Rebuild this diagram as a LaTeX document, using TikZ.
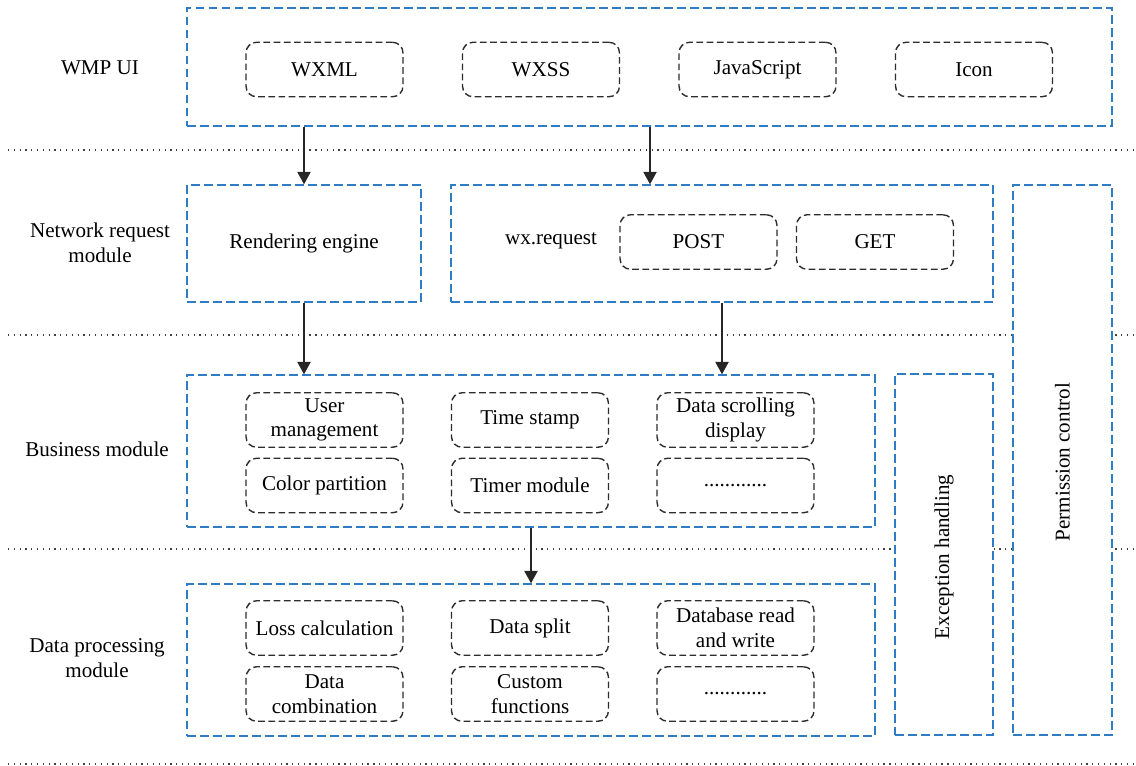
\documentclass[tikz,border=0pt]{standalone}
\usepackage{fontspec}
\setmainfont{Liberation Serif}
\usetikzlibrary{arrows.meta}

\definecolor{layerblue}{RGB}{46,125,196}
\definecolor{itemgray}{RGB}{45,45,45}

\begin{document}
\begin{tikzpicture}[x=0.02cm, y=-0.02cm,
    font=\fontsize{12}{14}\selectfont,
    layer/.style={draw=layerblue, fill=white, line width=0.85pt, dash pattern=on 5pt off 2.4pt, inner sep=0pt},
    item/.style={draw=itemgray, fill=white, line width=0.8pt, dash pattern=on 3.8pt off 2pt, rounded corners=6pt, minimum width=3.14cm, minimum height=1.09cm, align=center, inner sep=1pt},
    sep/.style={black!75, line width=0.7pt, dash pattern=on 0.7pt off 2.6pt},
    flow/.style={-{Triangle[width=7.5pt,length=7pt]}, line width=0.75pt, black!85}]
  \useasboundingbox (0,0) rectangle (1136,765);

  % Draw the dotted separators between the layers
  \draw[sep] (8,150) -- (1136,150);
  \draw[sep] (8,335) -- (1136,335);
  \draw[sep] (8,549) -- (1136,549);
  \draw[sep] (8,764) -- (1136,764);

  % Layer labels on the left
  \node (lUI) at (100,68) {WMP UI};
  \node[align=center] (lNet) at (100,243) {Network request\\module};
  \node (lBiz) at (97,449) {Business module};
  \node[align=center] (lData) at (97,658) {Data processing\\module};

  % WMP UI layer
  \node[layer, minimum width=18.5cm, minimum height=2.36cm] (ui) at (649.5,67) {};
  \node[item] (wxml) at (324.5,69.5) {WXML};
  \node[item] (wxss) at (541,69.5) {WXSS};
  \node[item] (js) at (757.5,69.5) {JavaScript};
  \node[item] (icon) at (974,69.5) {Icon};

  % Network request layer
  \node[layer, minimum width=4.68cm, minimum height=2.34cm] (render) at (304,243.5) {Rendering engine};
  \node[layer, minimum width=10.84cm, minimum height=2.34cm] (req) at (722,243.5) {};
  \node (wxreq) at (551,241) {wx.request};
  \node[item] (post) at (698.5,242) {POST};
  \node[item] (get) at (875,242) {GET};

  % Side columns
  \node[layer, minimum width=1.98cm, minimum height=11cm] (perm) at (1062.5,460) {};
  \node[rotate=90] (permtxt) at (1062.5,462) {Permission control};
  \node[layer, minimum width=1.96cm, minimum height=7.22cm] (exc) at (944,554.5) {};
  \node[rotate=90] (exctxt) at (944,557) {Exception handling};

  % Business layer
  \node[layer, minimum width=13.76cm, minimum height=3.04cm] (biz) at (531,451) {};
  \node[item] (user) at (324.5,420) {User\\management};
  \node[item] (stamp) at (530,420) {Time stamp};
  \node[item] (scroll) at (735.5,420) {Data scrolling\\display};
  \node[item] (color) at (324.5,485.5) {Color partition};
  \node[item] (timer) at (530,485.5) {Timer module};
  \node[item] (bizmore) at (735.5,485.5) {............};

  % Data processing layer
  \node[layer, minimum width=13.76cm, minimum height=3.04cm] (data) at (531,660) {};
  \node[item] (loss) at (324.5,628) {Loss calculation};
  \node[item] (split) at (530,628) {Data split};
  \node[item] (dbrw) at (735.5,628) {Database read\\and write};
  \node[item] (comb) at (324.5,694) {Data\\combination};
  \node[item] (custom) at (530,694) {Custom\\functions};
  \node[item] (datamore) at (735.5,694) {............};

  % Arrows between the layers
  \coordinate (reqin) at (650,0);
  \draw[flow] (ui.south -| render.north) -- (render.north);
  \draw[flow] (ui.south -| reqin) -- (req.north -| reqin);
  \draw[flow] (render.south) -- (render.south |- biz.north);
  \draw[flow] (req.south) -- (req.south |- biz.north);
  \draw[flow] (biz.south) -- (data.north);
\end{tikzpicture}
\end{document}
